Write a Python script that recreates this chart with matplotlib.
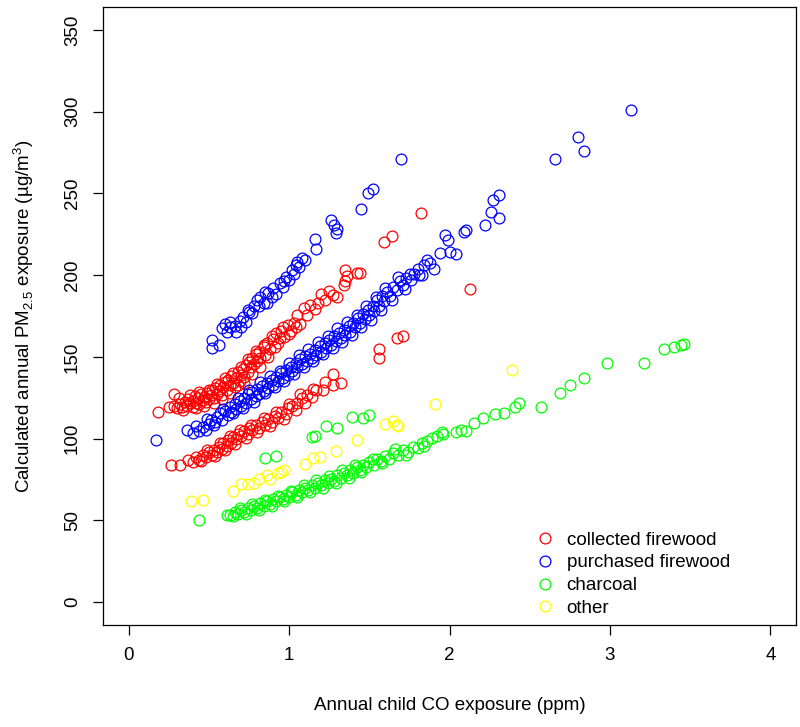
import matplotlib
matplotlib.use("Agg")
import matplotlib.pyplot as plt
import numpy as np

plt.rcParams['font.family'] = ['Liberation Sans', 'DejaVu Sans']
plt.rcParams['mathtext.fontset'] = 'custom'
plt.rcParams['mathtext.rm'] = 'Liberation Sans'

# collected firewood (two bands + a few outliers)
collected_x = [0.18, 0.25, 0.28, 0.28, 0.30, 0.32, 0.33, 0.35, 0.36, 0.37, 0.38, 0.40, 0.40, 0.41,
               0.42, 0.43, 0.44, 0.45, 0.46, 0.47, 0.48, 0.49, 0.50, 0.51, 0.52, 0.53, 0.54, 0.55,
               0.56, 0.57, 0.58, 0.59, 0.60, 0.61, 0.62, 0.63, 0.64, 0.65, 0.66, 0.67, 0.68, 0.69,
               0.70, 0.71, 0.72, 0.73, 0.74, 0.75, 0.76, 0.77, 0.78, 0.79, 0.80, 0.81, 0.82, 0.84,
               0.85, 0.86, 0.88, 0.90, 0.92, 0.93, 0.95, 0.97, 0.99, 1.01, 1.03, 1.05, 1.07, 1.11,
               1.13, 1.16, 1.20, 1.22, 1.27, 1.30, 1.34, 1.35, 1.36, 1.35, 1.42, 1.44,
               0.31, 0.34, 0.38, 0.42, 0.44, 0.47, 0.50, 0.53, 0.55, 0.58, 0.60, 0.63, 0.65, 0.68,
               0.70, 0.72, 0.74, 0.77, 0.79, 0.82, 0.84, 0.87, 0.89, 0.91, 0.94, 0.96, 1.00, 1.04,
               1.09, 1.18, 1.25,
               1.59, 1.64, 1.82, 2.13, 1.56, 1.56, 1.67, 1.71,
               0.26, 0.32, 0.37, 0.40, 0.42, 0.44, 0.46, 0.48, 0.50, 0.52, 0.53, 0.55, 0.56, 0.58,
               0.59, 0.61, 0.62, 0.64, 0.65, 0.67, 0.68, 0.70, 0.72, 0.74, 0.75, 0.77, 0.79, 0.81,
               0.83, 0.85, 0.87, 0.89, 0.91, 0.93, 0.95, 0.98, 0.99, 1.02, 1.05, 1.08, 1.11, 1.14,
               1.17, 1.21, 1.22, 1.27, 1.27, 1.32,
               0.45, 0.49, 0.54, 0.57, 0.60, 0.63, 0.66, 0.69, 0.73, 0.76, 0.80, 0.84, 0.88, 0.92,
               0.97, 1.00, 1.04, 1.07, 1.10, 1.15]
collected_y = [116.4, 119.4, 127.5, 120.0, 118.5, 121.0, 119.0, 122.5, 120.0, 124.0, 121.5, 123.0,
               119.5, 126.0, 122.0, 124.5, 121.0, 127.0, 123.5, 125.5, 122.5, 128.0, 124.0, 126.5,
               129.5, 125.0, 131.0, 127.5, 129.0, 133.0, 126.5, 131.5, 134.5, 130.0, 136.0, 132.5,
               138.0, 134.0, 131.5, 137.0, 140.5, 135.5, 139.0, 142.5, 137.5, 145.0, 141.0, 147.0,
               143.5, 149.0, 145.5, 151.5, 147.5, 153.0, 149.5, 156.0, 151.0, 158.5, 155.0, 161.0,
               164.5, 158.5, 166.0, 162.0, 169.5, 166.0, 171.0, 175.5, 170.0, 175.5, 181.5, 179.0,
               188.5, 185.0, 188.0, 186.5, 194.0, 196.5, 199.5, 203.0, 201.5, 201.5,
               124.5, 117.5, 126.5, 118.5, 128.5, 120.0, 130.0, 121.5, 133.5, 124.0, 137.0, 128.0,
               140.0, 132.5, 144.0, 134.0, 148.5, 139.5, 153.5, 144.0, 157.5, 150.0, 163.0, 156.0,
               161.5, 168.0, 164.0, 168.5, 180.0, 183.0, 190.0,
               220.5, 224.0, 238.2, 191.7, 155.0, 149.4, 161.5, 162.5,
               83.7, 84.1, 86.8, 85.5, 88.8, 87.0, 90.0, 88.5, 91.5, 90.0, 93.0, 91.5, 95.0, 93.5,
               97.0, 95.5, 99.0, 97.5, 101.0, 99.5, 103.0, 101.5, 104.5, 103.0, 106.5, 105.0,
               108.0, 106.5, 110.0, 108.5, 112.0, 110.0, 114.0, 112.5, 116.0, 115.0, 118.5, 120.0,
               122.0, 124.5, 126.5, 125.5, 129.5, 130.0, 134.5, 139.5, 132.7, 134.1,
               86.0, 93.0, 89.0, 97.5, 93.0, 101.5, 96.5, 105.5, 100.5, 108.5, 104.0, 112.5,
               107.5, 116.5, 112.0, 121.0, 117.5, 127.0, 122.0, 130.5]

# purchased firewood
purchased_x = [0.52, 0.52, 0.56, 0.58, 0.61, 0.63, 0.63, 0.66, 0.67, 0.69, 0.71, 0.73, 0.75, 0.77,
               0.78, 0.80, 0.82, 0.84, 0.86, 0.87, 0.90, 0.92, 0.94, 0.96, 0.98, 1.00, 1.02, 1.03,
               1.05, 1.06, 1.08, 1.10, 0.60, 0.70, 0.74, 0.81, 0.85, 0.89, 0.97, 1.04,
               1.16, 1.17, 1.26, 1.28, 1.29, 1.30, 1.45, 1.49, 1.52, 1.70,
               0.17, 0.36, 0.40, 0.44, 0.46, 0.48, 0.50, 0.51, 0.53, 0.55, 0.57, 0.58, 0.60, 0.62,
               0.63, 0.64, 0.66, 0.67, 0.69, 0.70, 0.72, 0.73, 0.74, 0.76, 0.77, 0.79, 0.80, 0.81,
               0.83, 0.84, 0.86, 0.87, 0.89, 0.90, 0.92, 0.93, 0.95, 0.96, 0.98, 0.99, 1.01, 1.02,
               1.04, 1.05, 1.07, 1.08, 1.10, 1.11, 1.13, 1.14, 1.16, 1.17, 1.19, 1.20, 1.22, 1.23,
               1.25, 1.26, 1.28, 1.29, 1.31, 1.32, 1.34, 1.35, 1.37, 1.38, 1.40, 1.41, 1.43, 1.44,
               1.46, 1.47, 1.49, 1.50, 1.52, 1.53, 1.55, 1.56, 1.58, 1.59, 1.61, 1.63, 1.65, 1.67,
               1.69, 1.71, 1.73, 1.76, 1.78, 1.81, 1.84, 1.86, 1.88, 1.90, 1.94, 1.97, 1.99, 2.00,
               2.04, 2.09, 2.10, 2.22, 2.26, 2.27, 2.31, 2.31, 2.66, 2.80, 2.84, 3.13,
               0.42, 0.49, 0.54, 0.59, 0.65, 0.68, 0.71, 0.75, 0.78, 0.82, 0.85, 0.88, 0.91, 0.94,
               0.97, 1.00, 1.03, 1.06, 1.09, 1.12, 1.15, 1.18, 1.21, 1.24, 1.27, 1.30, 1.33, 1.36,
               1.39, 1.42, 1.45, 1.48, 1.51, 1.54, 1.57, 1.60, 1.64, 1.68, 1.72, 1.75, 1.80, 1.83]
purchased_y = [155.2, 160.3, 157.2, 167.4, 165.3, 168.4, 171.5, 169.0, 165.3, 172.0, 174.5, 171.5,
               177.6, 176.6, 181.0, 184.7, 186.8, 183.0, 182.7, 189.0, 191.9, 188.5, 195.0, 193.0,
               199.0, 197.0, 203.1, 200.5, 208.2, 205.0, 210.3, 209.0, 170.0, 168.0, 178.5, 181.0,
               189.5, 186.5, 196.5, 206.0,
               222.2, 216.0, 233.5, 230.7, 225.8, 228.5, 240.3, 250.5, 252.5, 271.1,
               99.0, 105.1, 103.1, 104.5, 107.2, 105.5, 109.0, 111.3, 108.5, 113.0, 115.4, 111.5,
               117.0, 114.5, 119.4, 116.5, 121.0, 118.0, 123.0, 120.0, 124.5, 121.5, 127.0, 124.0,
               128.5, 126.0, 130.5, 127.5, 132.0, 129.0, 134.0, 131.0, 136.0, 133.0, 137.5, 135.0,
               140.0, 137.0, 142.0, 139.0, 144.0, 141.5, 146.5, 143.5, 148.5, 145.5, 150.5, 147.5,
               152.0, 149.5, 154.0, 151.0, 156.5, 153.0, 158.5, 155.5, 160.5, 157.5, 162.5, 159.5,
               164.5, 161.5, 166.5, 163.5, 169.0, 165.5, 171.0, 168.0, 173.5, 170.5, 176.0, 173.0,
               178.5, 175.5, 181.0, 178.0, 184.5, 181.0, 187.0, 184.0, 189.5, 187.0, 193.0, 191.0,
               196.5, 194.0, 198.5, 197.0, 201.0, 200.0, 206.5, 209.5, 207.2, 203.5, 213.3, 224.5,
               221.5, 214.3, 213.0, 226.6, 227.5, 230.7, 238.8, 246.0, 235.2, 249.0, 270.9, 284.7,
               276.0, 301.0,
               107.5, 112.0, 110.0, 118.0, 115.5, 125.0, 118.5, 129.5, 122.5, 134.5, 128.0, 138.5,
               131.5, 141.5, 135.0, 146.0, 139.5, 151.0, 143.5, 155.0, 147.5, 159.0, 151.5, 163.0,
               155.5, 167.5, 159.0, 171.5, 163.5, 175.5, 168.5, 181.0, 172.5, 186.5, 178.5, 192.0,
               185.0, 199.0, 191.5, 200.5, 203.5, 200.0]

# charcoal
charcoal_x = [0.44, 0.61, 0.63, 0.66, 0.68, 0.70, 0.72, 0.74, 0.76, 0.78, 0.80, 0.82, 0.84, 0.86,
              0.88, 0.90, 0.92, 0.94, 0.96, 0.98, 1.00, 1.02, 1.04, 1.06, 1.08, 1.10, 1.12, 1.14,
              1.16, 1.18, 1.20, 1.22, 1.24, 1.26, 1.28, 1.30, 1.32, 1.34, 1.36, 1.38, 1.40, 1.42,
              1.44, 1.46, 1.48, 1.50, 1.53, 1.55, 1.57, 1.60, 1.62, 1.65, 1.68, 1.71, 1.74, 1.77,
              1.80, 1.83, 1.86, 1.89, 1.92, 1.96, 2.04, 2.07, 2.10, 2.15, 2.21, 2.28, 2.34, 2.41,
              2.43, 2.57, 2.69, 2.75, 2.84, 2.98, 3.21, 3.34, 3.40, 3.44, 3.46,
              0.65, 0.69, 0.73, 0.77, 0.81, 0.85, 0.89, 0.93, 0.97, 1.01, 1.05, 1.09, 1.13, 1.17,
              1.21, 1.25, 1.29, 1.33, 1.37, 1.41, 1.45, 1.52, 1.58, 1.66, 1.73, 1.84, 1.95,
              0.85, 0.92, 1.14, 1.16, 1.23, 1.30, 1.39, 1.46, 1.50]
charcoal_y = [50.4, 53.1, 53.5, 55.0, 53.8, 56.5, 55.0, 57.5, 56.0, 59.0, 57.5, 60.5, 59.0, 61.5,
              60.0, 63.0, 61.5, 64.5, 63.0, 65.5, 64.0, 67.0, 65.5, 68.5, 67.0, 70.0, 68.5, 71.5,
              70.0, 73.0, 71.5, 74.5, 73.0, 75.5, 74.0, 77.5, 76.0, 79.0, 77.5, 81.0, 79.0, 82.5,
              81.0, 84.0, 82.5, 85.5, 84.0, 87.5, 86.0, 89.0, 87.5, 91.0, 90.0, 93.0, 92.0, 95.0,
              94.5, 97.0, 98.5, 100.5, 101.5, 102.7, 104.0, 105.0, 104.5, 109.2, 112.3, 114.9,
              115.7, 119.4, 121.5, 119.0, 127.6, 132.7, 136.8, 146.0, 146.0, 154.7, 155.9, 157.0,
              158.0,
              52.5, 57.5, 54.0, 60.0, 56.5, 62.5, 58.5, 65.0, 61.5, 68.0, 64.0, 71.5, 67.5, 74.5,
              70.0, 77.0, 72.5, 80.5, 76.0, 84.0, 79.5, 87.5, 85.0, 93.5, 90.0, 95.5, 104.0,
              88.2, 89.2, 101.0, 101.7, 107.8, 106.2, 113.3, 112.7, 114.3]

# other
other_x = [0.39, 0.46, 0.65, 0.70, 0.74, 0.78, 0.81, 0.86, 0.88, 0.93, 0.95, 0.97, 1.10, 1.15,
           1.19, 1.29, 1.42, 1.60, 1.65, 1.67, 1.68, 1.91, 2.39]
other_y = [61.7, 62.3, 67.8, 71.9, 72.0, 72.5, 75.1, 77.6, 75.0, 78.6, 79.6, 80.6, 84.7, 87.8,
           88.8, 92.3, 99.2, 108.8, 110.8, 108.0, 107.6, 121.0, 141.9]

groups = [("collected firewood", collected_x, collected_y, "#ff0000"),
          ("purchased firewood", purchased_x, purchased_y, "#0000ff"),
          ("charcoal", charcoal_x, charcoal_y, "#00ff00"),
          ("other", other_x, other_y, "#ffff00")]

fig = plt.figure(figsize=(8, 7.27), dpi=100)
ax = fig.add_axes([0.129, 0.1406, 0.866, 0.8495])

for label, xs, ys, col in groups:
    ax.plot(xs, ys, linestyle="none", marker="o", markersize=7.8, markerfacecolor="none",
            markeredgecolor=col, markeredgewidth=0.9, label=label)

ax.set_xlim(-0.16, 4.16)
ax.set_ylim(-14, 364)
ax.set_xticks([0, 1, 2, 3, 4])
ax.set_yticks([0, 50, 100, 150, 200, 250, 300, 350])
ax.tick_params(direction="out", length=7, width=0.9, labelsize=13.5, pad=9)
for lab in ax.get_yticklabels():
    lab.set_rotation(90)
    lab.set_va("center")
for s in ax.spines.values():
    s.set_linewidth(0.9)

ax.set_xlabel("Annual child CO exposure (ppm)", fontsize=13.5, labelpad=24)
ax.set_ylabel("Calculated annual PM$_{2.5}$ exposure (\u00b5g/m$^{3}$)", fontsize=13.5, labelpad=20)

ax.legend(loc="upper left", bbox_to_anchor=(0.6, 0.163), frameon=False, fontsize=13.5,
          handletextpad=0.15, labelspacing=0.3, borderaxespad=0)

fig.savefig("out.png", dpi=100)
